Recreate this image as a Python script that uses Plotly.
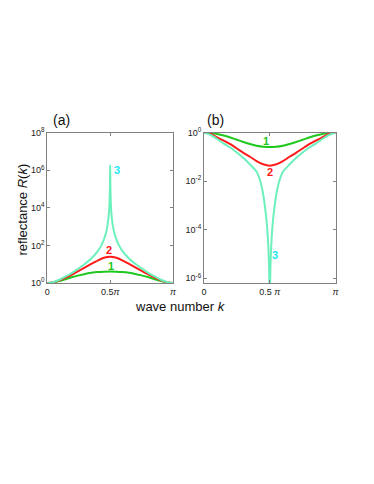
import plotly.graph_objects as go

# wave number k in units of pi
k_grid = [0, 0.05, 0.1, 0.15, 0.2, 0.25, 0.3, 0.35, 0.4, 0.45, 0.5,
          0.55, 0.6, 0.65, 0.7, 0.75, 0.8, 0.85, 0.9, 0.95, 1.0]
k_sharp = [0, 0.05, 0.1, 0.15, 0.2, 0.25, 0.3, 0.35, 0.4, 0.43, 0.45, 0.47,
           0.48, 0.49, 0.495, 0.498, 0.5, 0.502, 0.505, 0.51, 0.52, 0.53,
           0.55, 0.57, 0.6, 0.65, 0.7, 0.75, 0.8, 0.85, 0.9, 0.95, 1.0]

# panel (a): reflectance > 1
a_curve1 = [1.0, 1.076, 1.30, 1.64, 2.07, 2.55, 3.03, 3.46, 3.80, 4.02, 4.10,
            4.02, 3.80, 3.46, 3.03, 2.55, 2.07, 1.64, 1.30, 1.076, 1.0]
a_curve2 = [1.0, 1.10, 1.41, 1.99, 2.92, 4.40, 6.71, 10.3, 15.6, 21.8, 25.0,
            21.8, 15.6, 10.3, 6.71, 4.40, 2.92, 1.99, 1.41, 1.10, 1.0]
a_curve3 = [1.0, 1.13, 1.53, 2.3, 3.6, 6.0, 10.5, 20, 48, 100, 200, 560,
            1260, 5000, 2.0e4, 1.3e5, 1.7e6, 1.3e5, 2.0e4, 5000, 1260, 560,
            200, 100, 48, 20, 10.5, 6.0, 3.6, 2.3, 1.53, 1.13, 1.0]

# panel (b): reflectance < 1
b_curve1 = [1.0, 0.967, 0.876, 0.752, 0.620, 0.501, 0.405, 0.334, 0.287, 0.260, 0.251,
            0.260, 0.287, 0.334, 0.405, 0.501, 0.620, 0.752, 0.876, 0.967, 1.0]
b_curve2 = [1.0, 0.87, 0.63, 0.46, 0.33, 0.22, 0.145, 0.10, 0.066, 0.049, 0.043,
            0.049, 0.066, 0.10, 0.145, 0.22, 0.33, 0.46, 0.63, 0.87, 1.0]
b_curve3 = [1.0, 0.79, 0.54, 0.35, 0.24, 0.15, 0.089, 0.048, 0.024, 0.0089, 0.0028,
            4.5e-4, 1.26e-4, 1.6e-5, 2.5e-6, 2.5e-7, 1e-9, 2.5e-7, 2.5e-6, 1.6e-5,
            1.26e-4, 4.5e-4, 0.0028, 0.0089, 0.024, 0.048, 0.089, 0.15, 0.24, 0.35,
            0.54, 0.79, 1.0]

x_ticks = [0, 0.5, 1]
a_xtext = ["0", "0.5<i>π</i>", "<i>π</i>"]
b_xtext = ["0", "0.5 <i>π</i>", "<i>π</i>"]
a_yticks = [1, 1e2, 1e4, 1e6, 1e8]
a_ytext = ["10<sup>0</sup>", "10<sup>2</sup>", "10<sup>4</sup>", "10<sup>6</sup>", "10<sup>8</sup>"]
b_yticks = [1e-6, 1e-4, 1e-2, 1]
b_ytext = ["10<sup>-6</sup>", "10<sup>-4</sup>", "10<sup>-2</sup>", "10<sup>0</sup>"]

GREEN = "#1fc81f"
RED = "#ff1a1a"
AQUA = "#6cf0bc"
CYAN = "#1ee6f5"
FONT = "Liberation Sans, Arial, sans-serif"

W, H = 374, 484
OFF = 8  # page body margin


def px(x):
    return (x - OFF) / W


def py(y):
    return 1 - (y - OFF) / H


fig = go.Figure()

for xs, ys, col, ax in [
    (k_grid, a_curve1, GREEN, "1"), (k_grid, a_curve2, RED, "1"), (k_sharp, a_curve3, AQUA, "1"),
    (k_grid, b_curve1, GREEN, "2"), (k_grid, b_curve2, RED, "2"), (k_sharp, b_curve3, AQUA, "2"),
]:
    fig.add_trace(go.Scatter(
        x=xs, y=ys, mode="lines", line=dict(color=col, width=2, shape="spline", smoothing=0.6),
        xaxis="x" if ax == "1" else "x2", yaxis="y" if ax == "1" else "y2",
        hoverinfo="skip",
    ))

axis_style = dict(
    showline=True, linecolor="#808080", linewidth=1, mirror="ticks", automargin=False,
    ticks="inside", ticklen=3, tickcolor="#808080", showgrid=False, zeroline=False,
    tickfont=dict(size=9, color="#222", family=FONT),
)

y_dom = [py(283), py(132.5)]
fig.update_layout(
    template="none",
    width=W, height=H,
    margin=dict(l=0, r=0, t=0, b=0, pad=0),
    paper_bgcolor="white", plot_bgcolor="white",
    showlegend=False,
    font=dict(family=FONT),
    xaxis=dict(domain=[px(47.3), px(173)], range=[0, 1], anchor="y",
               tickvals=x_ticks, ticktext=a_xtext, **axis_style),
    yaxis=dict(domain=y_dom, type="log", range=[0, 8], anchor="x",
               tickvals=a_yticks, ticktext=a_ytext, **axis_style),
    xaxis2=dict(domain=[px(204), px(335.5)], range=[0, 1], anchor="y2",
                tickvals=x_ticks, ticktext=b_xtext, **axis_style),
    yaxis2=dict(domain=y_dom, type="log", range=[-6.2, 0], anchor="x2",
                tickvals=b_yticks, ticktext=b_ytext, **axis_style),
)

labels = [
    ("x", "y", 0.556, 6.0, "3", CYAN),
    ("x", "y", 0.492, 1.76, "2", RED),
    ("x", "y", 0.506, 0.88, "1", GREEN),
    ("x2", "y2", 0.472, -0.37, "1", GREEN),
    ("x2", "y2", 0.503, -1.63, "2", RED),
    ("x2", "y2", 0.541, -5.06, "3", CYAN),
]
for xr, yr, x, y, txt, col in labels:
    fig.add_annotation(xref=xr, yref=yr, x=x, y=y, text=f"<b>{txt}</b>", showarrow=False,
                       font=dict(size=11, color=col, family=FONT))

fig.add_annotation(xref="paper", yref="paper", x=px(51), y=py(130), text="(a)",
                   xanchor="left", yanchor="bottom",
                   showarrow=False, font=dict(size=14, color="#111"))
fig.add_annotation(xref="paper", yref="paper", x=px(204.5), y=py(130), text="(b)",
                   xanchor="left", yanchor="bottom",
                   showarrow=False, font=dict(size=14, color="#111"))
fig.add_annotation(xref="paper", yref="paper", x=px(180.5), y=py(306),
                   text="wave number <i>k</i>", showarrow=False,
                   font=dict(size=13, color="#111"))
fig.add_annotation(xref="paper", yref="paper", x=px(12), y=py(210),
                   text="reflectance <i>R</i>(<i>k</i>)", textangle=-90, showarrow=False,
                   font=dict(size=13, color="#111"))

fig.write_html("out.html")
